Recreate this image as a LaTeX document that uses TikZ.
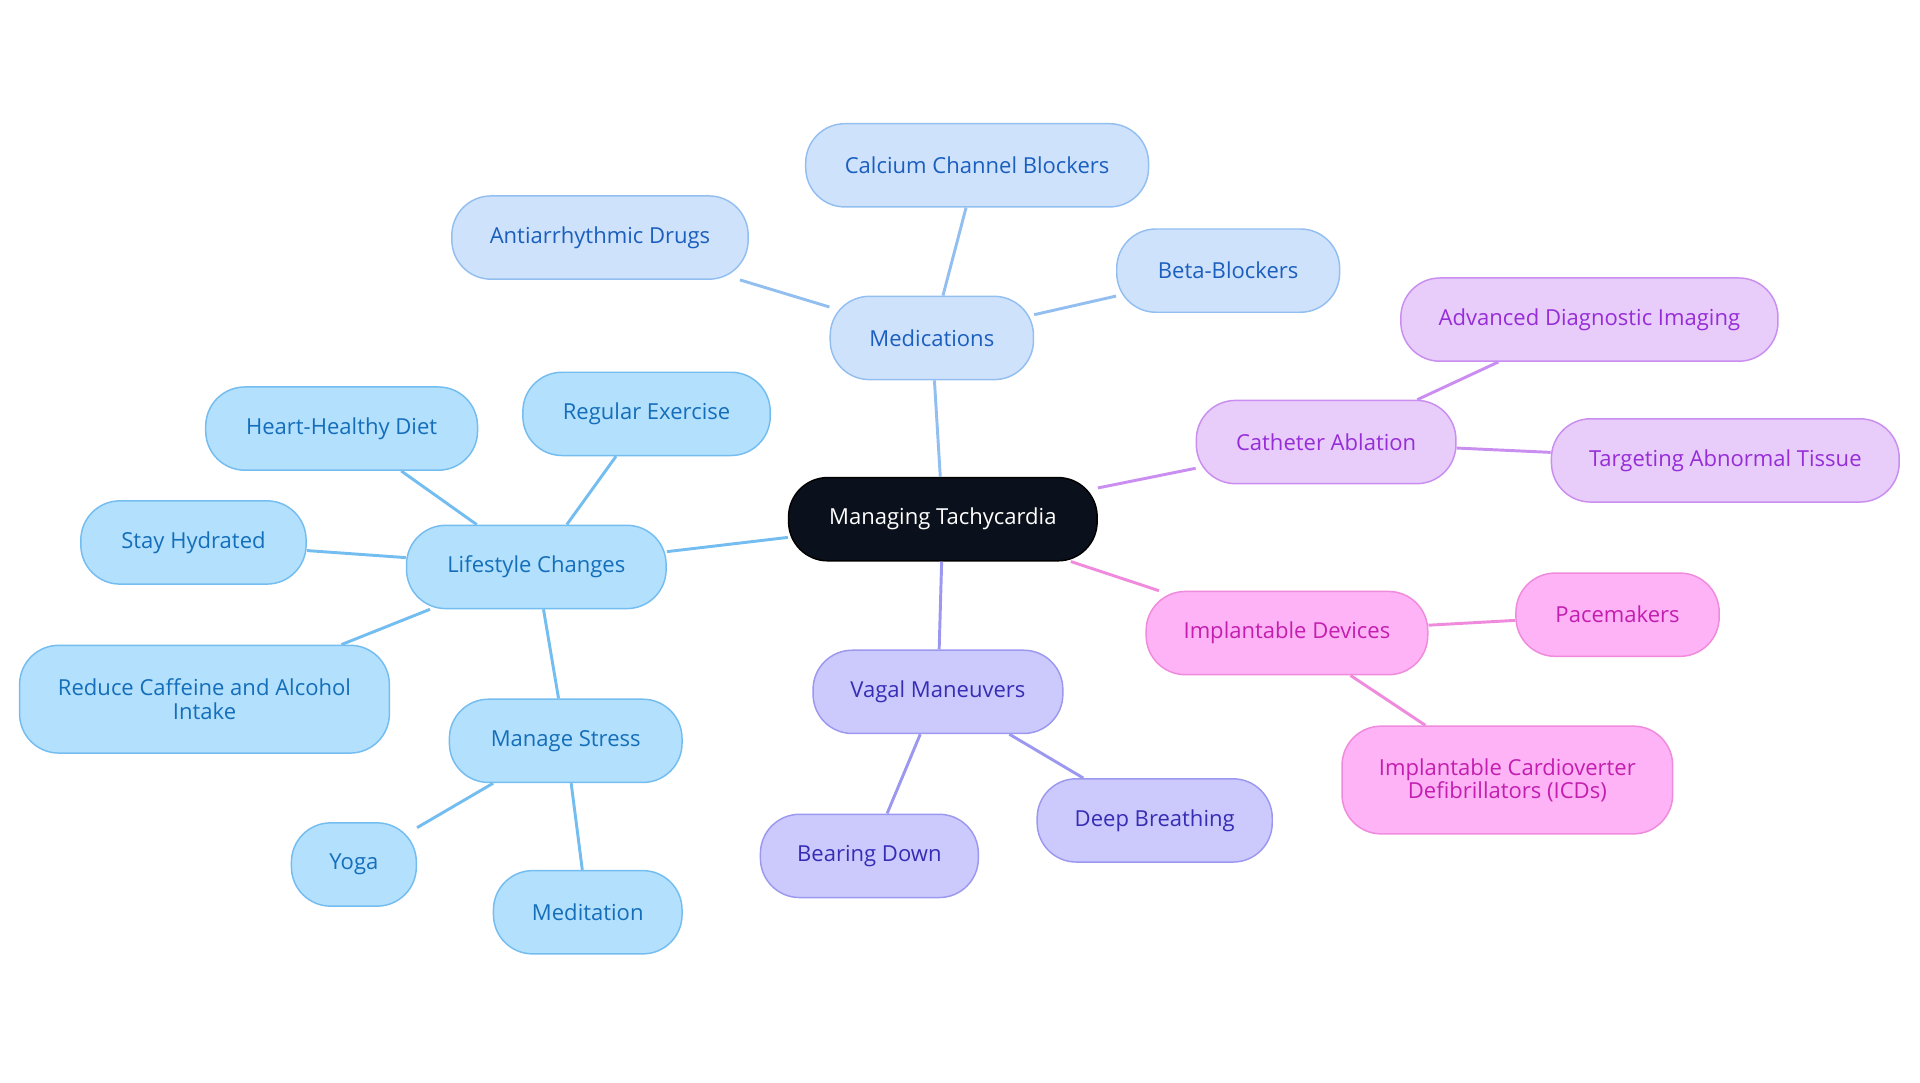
\documentclass[tikz,border=0pt]{standalone}
\usepackage{fontspec}
\setmainfont{Open Sans}
\begin{document}
\begin{tikzpicture}[x=0.5pt,y=-0.5pt,
 base/.style={draw,line width=0.6pt,rounded corners=16pt,minimum height=34pt,align=center,font=\fontsize{9}{9.5}\selectfont,inner sep=0pt},
 root/.style={base,fill=black!90!blue!60,draw=black,text=white},
 med/.style={base,fill=blue!18!cyan!8,draw=blue!40!cyan!40,text=blue!65!cyan!80!black},
 life/.style={base,fill=cyan!28!blue!10,draw=cyan!50!blue!40,text=cyan!40!blue!75!black},
 cath/.style={base,fill=violet!20,draw=violet!45,text=violet!80},
 imp/.style={base,fill=magenta!30,draw=magenta!50,text=magenta!75!black},
 vag/.style={base,fill=blue!20,draw=blue!40,text=blue!70!black},
 e/.style={line width=1.2pt}]
\useasboundingbox (0,0) rectangle (1568,884);
\definecolor{medc}{HTML}{93BFF0}\definecolor{lifec}{HTML}{74BDF0}
\definecolor{cathc}{HTML}{C98EF0}\definecolor{impc}{HTML}{F08ADC}\definecolor{vagc}{HTML}{9C98F0}
\definecolor{medf}{HTML}{CFE2FB}\definecolor{lifef}{HTML}{B3E0FD}\definecolor{cathf}{HTML}{E8CCFA}
\definecolor{impf}{HTML}{FDB3F5}\definecolor{vagf}{HTML}{CCCAFD}
\tikzset{med/.append style={fill=medf,draw=medc,text={rgb,255:red,26;green,95;blue,190}},
 life/.append style={fill=lifef,draw=lifec,text={rgb,255:red,20;green,110;blue,185}},
 cath/.append style={fill=cathf,draw=cathc,text={rgb,255:red,150;green,45;blue,215}},
 imp/.append style={fill=impf,draw=impc,text={rgb,255:red,195;green,30;blue,175}},
 vag/.append style={fill=vagf,draw=vagc,text={rgb,255:red,55;green,45;blue,180}}}
\begin{scope}[on background layer/.style={}]
\end{scope}
\path
 (770,424) node[root,minimum width=126pt,fill={rgb,255:red,11;green,17;blue,28}] (r) {Managing Tachycardia}
 (761,276) node[med,minimum width=83pt] (m) {Medications}
 (798,135) node[med,minimum width=140pt] (m1) {Calcium Channel Blockers}
 (490,194) node[med,minimum width=121pt] (m2) {Antiarrhythmic Drugs}
 (1003,221) node[med,minimum width=91pt] (m3) {Beta-Blockers}
 (438,463) node[life,minimum width=106pt] (l) {Lifestyle Changes}
 (279,350) node[life,minimum width=111pt] (l1) {Heart-Healthy Diet}
 (528,338) node[life,minimum width=101pt] (l2) {Regular Exercise}
 (158,443) node[life,minimum width=92pt] (l3) {Stay Hydrated}
 (167,571) node[life,minimum width=151pt,minimum height=44pt] (l4) {Reduce Caffeine and Alcohol\\Intake}
 (462,605) node[life,minimum width=95pt] (s) {Manage Stress}
 (289,706) node[life,minimum width=51pt] (s1) {Yoga}
 (480,745) node[life,minimum width=77pt] (s2) {Meditation}
 (1083,361) node[cath,minimum width=106pt] (c) {Catheter Ablation}
 (1298,261) node[cath,minimum width=154pt] (c1) {Advanced Diagnostic Imaging}
 (1409,376) node[cath,minimum width=142pt] (c2) {Targeting Abnormal Tissue}
 (1051,517) node[imp,minimum width=115pt] (i) {Implantable Devices}
 (1321,502) node[imp,minimum width=83pt] (i1) {Pacemakers}
 (1231,637) node[imp,minimum width=135pt,minimum height=44pt] (i2) {Implantable Cardioverter\\Defibrillators (ICDs)}
 (766,565) node[vag,minimum width=102pt] (v) {Vagal Maneuvers}
 (710,699) node[vag,minimum width=89pt] (v1) {Bearing Down}
 (943,670) node[vag,minimum width=96pt] (v2) {Deep Breathing};
\draw[e,medc] (r)--(m) (m)--(m1) (m)--(m2) (m)--(m3);
\draw[e,lifec] (r)--(l) (l)--(l1) (l)--(l2) (l)--(l3) (l)--(l4) (l)--(s) (s)--(s1) (s)--(s2);
\draw[e,cathc] (r)--(c) (c)--(c1) (c)--(c2);
\draw[e,impc] (r)--(i) (i)--(i1) (i)--(i2);
\draw[e,vagc] (r)--(v) (v)--(v1) (v)--(v2);
\end{tikzpicture}
\end{document}
